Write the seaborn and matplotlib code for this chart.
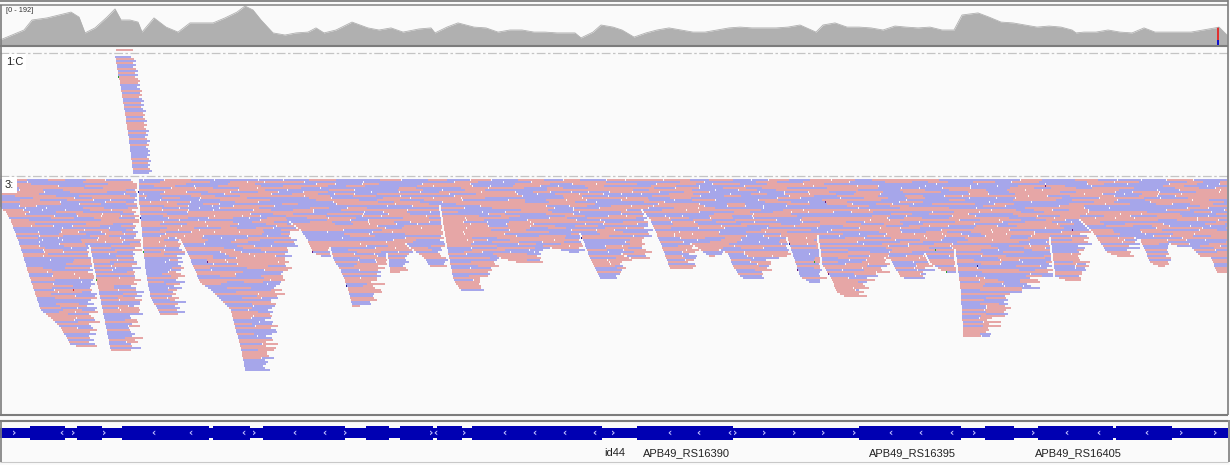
import numpy as np
import pandas as pd
import matplotlib
matplotlib.use("Agg")
import matplotlib.pyplot as plt
import seaborn as sns

sns.set_theme(style="white")
plt.rcParams["font.family"] = ["Liberation Sans", "DejaVu Sans"]

# ---------------- data ----------------
# coverage track (position in view px, depth in reads; scale 0-192)
cov_pos = [0, 12, 24, 32, 47, 59, 71, 79, 85, 95, 107, 115, 121, 130, 138, 142, 154, 166, 178, 190,
           202, 213, 225, 237, 245, 253, 261, 273, 285, 296, 308, 316, 324, 336, 352, 368, 379, 391,
           403, 419, 431, 435, 447, 458, 474, 486, 498, 510, 522, 534, 545, 557, 575, 581, 593, 601,
           613, 622, 634, 646, 657, 669, 681, 693, 705, 717, 729, 740, 752, 764, 776, 788, 800, 816,
           823, 835, 847, 859, 871, 883, 895, 906, 918, 930, 942, 954, 962, 978, 989, 1001, 1013,
           1025, 1037, 1049, 1061, 1072, 1076, 1084, 1096, 1108, 1120, 1132, 1144, 1155, 1167, 1179,
           1191, 1203, 1215, 1219, 1227]
cov_depth = [24, 48, 72, 120, 130, 144, 158, 134, 58, 82, 134, 173, 120, 120, 110, 62, 130, 86, 62, 106,
             106, 106, 130, 158, 187, 168, 120, 58, 48, 58, 62, 82, 58, 72, 110, 82, 72, 82,
             62, 77, 82, 58, 86, 106, 86, 82, 62, 72, 72, 62, 62, 58, 58, 34, 62, 96,
             86, 72, 38, 58, 72, 82, 72, 62, 62, 72, 82, 86, 82, 82, 82, 86, 96, 62,
             96, 106, 86, 86, 82, 72, 91, 86, 82, 86, 72, 72, 144, 154, 134, 110, 106,
             96, 86, 91, 86, 72, 58, 62, 62, 72, 62, 58, 82, 62, 62, 62,
             62, 72, 82, 86, 48]
cov_max = 192
# mismatch column in coverage (C / T counts)
mm_pos = 1218
mm_c = 24
mm_t = 62

# pileup envelope of group "3:" (position, lowest pixel row reached)
stack_x = [0, 5, 10, 20, 30, 40, 50, 60, 70, 80, 86, 88, 90, 100, 110, 120, 129, 131, 138, 139, 145, 150,
           160, 171, 174, 180, 190, 200, 210, 220, 230, 240, 245, 262, 265, 270, 280, 285, 287, 290,
           300, 307, 313, 323, 330, 333, 340, 347, 352, 368, 372, 380, 387, 390, 400, 405, 413, 423,
           430, 437, 440, 447, 453, 460, 467, 475, 478, 487, 497, 507, 520, 530, 537, 547, 560, 573,
           580, 590, 600, 615, 620, 630, 638, 642, 650, 660, 670, 680, 687, 690, 700, 710, 720, 727,
           733, 740, 747, 757, 762, 770, 780, 787, 793, 800, 810, 816, 818, 822, 830, 837, 847, 855,
           860, 870, 877, 883, 890, 900, 910, 920, 925, 930, 940, 950, 955, 960, 963, 985, 987, 997,
           1003, 1013, 1023, 1030, 1045, 1050, 1055, 1070, 1077, 1080, 1093, 1107, 1120, 1133, 1140,
           1150, 1160, 1167, 1180, 1190, 1200, 1210, 1217, 1227]
stack_bottom = [208, 212, 220, 247, 280, 310, 318, 327, 345, 347, 347, 245, 247, 300, 350, 352, 352, 179, 179, 205, 270, 297,
                315, 315, 237, 240, 260, 283, 290, 300, 310, 347, 372, 372, 313, 297, 267, 245, 240, 222,
                230, 240, 253, 257, 247, 260, 270, 287, 307, 303, 270, 260, 253, 273, 270, 243, 250, 257,
                267, 267, 205, 250, 280, 290, 292, 290, 267, 268, 257, 260, 263, 263, 250, 247, 250, 253,
                233, 260, 280, 280, 253, 258, 260, 210, 220, 243, 270, 270, 268, 243, 250, 257, 250, 253,
                267, 277, 280, 280, 260, 260, 257, 237, 257, 277, 283, 283, 235, 265, 277, 293, 298, 297,
                277, 277, 273, 257, 260, 277, 280, 280, 253, 263, 270, 273, 250, 290, 337, 338, 317, 317,
                297, 290, 290, 277, 277, 237, 277, 282, 282, 220, 233, 253, 257, 237, 240,
                263, 267, 243, 247, 247, 257, 257, 273, 273]

# group "1:C" pileup (diagonal stack)
p1_row_knots = [56, 100, 133, 173]
p1_left = [115, 123, 128, 133]
p1_right = [133, 142, 147, 150]

# gene track
gene_thick_start = [30, 77, 122, 213, 263, 366, 400, 437, 472, 637, 859, 985, 1038, 1116]
gene_thick_end = [65, 102, 209, 250, 345, 389, 433, 462, 602, 733, 961, 1014, 1113, 1172]
chev_pos = [14, 61, 73, 104, 153, 190, 243, 254, 294, 324, 345, 431, 435, 464, 504, 534, 564, 594,
            613, 669, 698, 729, 735, 764, 794, 823, 854, 890, 920, 951, 974, 1033, 1066, 1098, 1146,
            1181, 1215]
chev_dir = ['>', '<', '>', '>', '<', '<', '<', '>', '<', '<', '>', '>', '<', '>', '<', '<', '<', '<',
            '>', '<', '<', '<', '>', '>', '>', '>', '>', '<', '<', '<', '>', '>', '<', '<', '<',
            '>', '>']
gene_labels = ["id44", "APB49_RS16390", "APB49_RS16395", "APB49_RS16405"]
gene_label_x = [604, 643, 869, 1035]

# ---------------- style ----------------
W, H = 1230, 465
BG = "#fafafa"
PINK = "#e6a6a6"
BLUE = "#a6a6ea"
GENE = "#0000b2"
COV = "#b0b0b0"
DOTC = ["#1c1c90", "#2aa02a", "#d42a2a", "#6a1a7a", "#1c1c90"]
ROW_H = 2
LW = ROW_H * 0.72

fig = plt.figure(figsize=(W / 100, H / 100), dpi=100, facecolor=BG)


def px_axes(top, bottom):
    ax = fig.add_axes([0, 1 - bottom / H, 1, (bottom - top) / H])
    ax.set_xlim(0, W)
    ax.set_axis_off()
    ax.patch.set_alpha(0)
    return ax


def mix(a, b):
    h = (a * 73856093) ^ (b * 19349663) ^ ((a + b) * 83492791)
    h = (h ^ (h >> 13)) * 1274126177
    return (h ^ (h >> 16)) & 0xFFFFFFFF


# coverage
axc = px_axes(5, 45)
axc.set_ylim(0, cov_max)
cov_df = pd.DataFrame({"pos": cov_pos, "depth": cov_depth})
sns.lineplot(data=cov_df, x="pos", y="depth", ax=axc, color=COV, lw=0.6)
axc.fill_between(cov_df["pos"], 0, cov_df["depth"], color=COV, lw=0)
axc.bar([mm_pos], [mm_c], width=1.6, color="#1010d0", lw=0)
axc.bar([mm_pos], [mm_t], bottom=[mm_c], width=1.6, color="#e03030", lw=0)
axc.set_axis_off()
axc.text(6, cov_max * 0.86, "[0 - 192]", fontsize=5.3, color="#333333", va="center")

# alignments
axa = px_axes(47, 415)
axa.set_ylim(415, 47)

y0s, x0s, x1s, cols = [], [], [], []
dx, dy, dc = [], [], []


def add_read(y, s, e, r, k):
    h = mix(r + 1, k + 7)
    y0s.append(y)
    x0s.append(s)
    x1s.append(e)
    cols.append(BLUE if (h >> 3) % 2 else PINK)
    if (h >> 7) % 4 == 0 and e - s > 4:
        dx.append(s + (h >> 11) % int(e - s))
        dy.append(y)
        dc.append(DOTC[(h >> 17) % 5])
    return h


# group 1:C
add_read(50, 116, 133, 0, 1)
for r, y in enumerate(np.arange(57, 174, ROW_H)):
    lft = np.interp(y, p1_row_knots, p1_left)
    rgt = np.interp(y, p1_row_knots, p1_right) + ((r * 7) % 5 - 2)
    add_read(y, lft, rgt, r + 500, r)

# group 3
xs = np.arange(0, 1228)
bottom = np.interp(xs, stack_x, stack_bottom)
for r, y in enumerate(np.arange(180, 376, ROW_H)):
    mask = (bottom > y).astype(int)
    d = np.diff(np.concatenate([[0], mask, [0]]))
    starts = np.where(d == 1)[0]
    ends = np.where(d == -1)[0]
    k = 0
    for i, (s, e) in enumerate(zip(starts, ends)):
        limit = starts[i + 1] - 2 if i + 1 < len(starts) else 1227
        p = s
        first = True
        while p < e:
            h = mix(r + 3, k + 101)
            L = 16 + h % 12
            if first and (s == 0 or bottom[max(s - 1, 0)] < 181):
                L = 3 + h % 20
            first = False
            q = p + L
            if q >= e:
                q = min(q, e + 2 + (h >> 9) % 14, limit)
            add_read(y, p, q, r, k)
            gap = 1 if (h >> 5) % 3 == 0 else 0
            p = p + L + gap
            k += 1

axa.hlines(y0s, x0s, x1s, colors=cols, linewidth=LW, antialiased=False)
axa.scatter(dx, dy, s=2.2, marker="s", c=dc, linewidths=0)

for yy in (53, 176):
    axa.axhline(yy, color="#c4c4c4", lw=0.9, linestyle=(0, (7, 2, 2, 2)))

box = dict(boxstyle="square,pad=0.25", fc="white", ec="none")
axa.text(6, 62, "1:C", fontsize=8, color="#222222", va="center", bbox=box)
axa.text(5, 185, "3:", fontsize=8, color="#222222", va="center", bbox=box)

# gene track
axg = px_axes(415, 465)
axg.set_ylim(465, 415)
axg.broken_barh([(0, 1228)], (428, 10), color=GENE, lw=0)
axg.broken_barh([(s, e - s) for s, e in zip(gene_thick_start, gene_thick_end)], (426, 14),
                color=GENE, lw=0)
for x, dr in zip(chev_pos, chev_dir):
    axg.text(x, 433, "\u203a" if dr == ">" else "\u2039", fontsize=7.5, fontweight="bold",
             color="#c0c0ff", ha="center", va="center", family="DejaVu Sans")
for name, x in zip(gene_labels, gene_label_x):
    axg.text(x, 453, name, fontsize=8, color="#222222", va="center")

# frame / chrome
axo = px_axes(0, H)
axo.set_ylim(H, 0)
axo.hlines([1.5], 0, 1228, color="#777777", lw=1.2)
axo.hlines([5.5], 0, 1228, color="#8c8c8c", lw=1.2)
axo.hlines([46], 0, 1228, color="#7c7c7c", lw=1.5)
axo.hlines([414.5, 420.5], 0, 1228, color="#7c7c7c", lw=1.5)
axo.hlines([461.5], 0, 1228, color="#c8c8c8", lw=0.8)
axo.vlines([0.8], 5, 415, color="#7c7c7c", lw=1.2)
axo.vlines([0.8], 420, 462, color="#7c7c7c", lw=1.2)
axo.vlines([1227.5], 0, 415, color="#7c7c7c", lw=1.2)
axo.vlines([1228.5], 420, 462, color="#7c7c7c", lw=1.2)

fig.savefig("out.png", dpi=100, facecolor=BG)
